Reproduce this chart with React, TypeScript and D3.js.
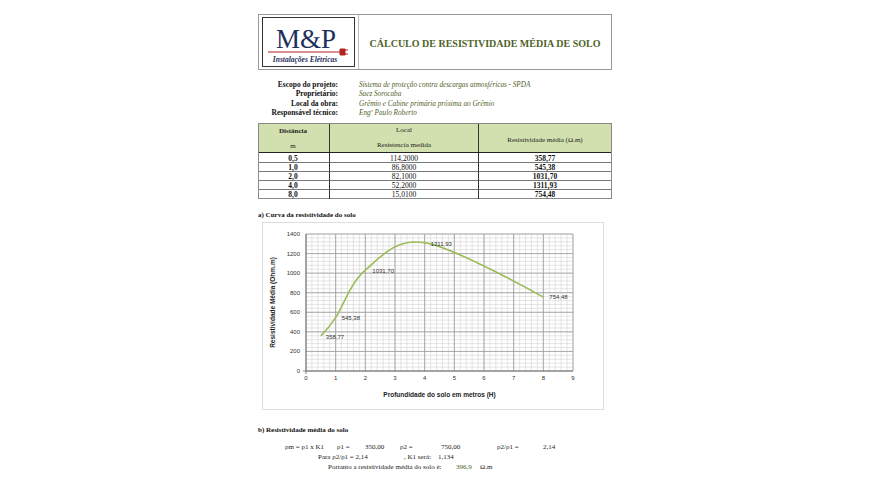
import React from "react";
import * as d3 from "d3";

const depths = [0.5, 1.0, 2.0, 4.0, 8.0];
const resistances = ["114,2000", "86,8000", "82,1000", "52,2000", "15,0100"];
const resistivity = [358.77, 545.38, 1031.7, 1311.93, 754.48];
const xTicks = [0, 1, 2, 3, 4, 5, 6, 7, 8, 9];
const yTicks = [0, 200, 400, 600, 800, 1000, 1200, 1400];
const infoLabels = ["Escopo do projeto:", "Proprietário:", "Local da obra:", "Responsável técnico:"];
const infoValues = [
  "Sistema de proteção contra descargas atmosféricas - SPDA",
  "Saez Sorocaba",
  "Grêmio e Cabine primária próxima ao Grêmio",
  "Engº Paulo Roberto",
];

const fmt = (v: number, d: number) => v.toFixed(d).replace(".", ",");

const SERIF = "'Liberation Serif', 'Times New Roman', serif";
const SANS = "'Liberation Sans', Arial, sans-serif";

export default function App() {
  const W = 870, H = 485;
  const x = d3.scaleLinear().domain([0, 9]).range([306, 573]);
  const y = d3.scaleLinear().domain([0, 1400]).range([371, 234]);
  const line = d3
    .line<number>()
    .x((_, i) => x(depths[i]))
    .y((d) => y(d))
    .curve(d3.curveCatmullRom.alpha(0));

  const minorX = d3.range(0, 9.0001, 0.2);
  const minorY = d3.range(0, 1400.001, 40);

  const rowY = [158, 167, 176, 185, 194];
  const labelOffsets = [
    [5, 3],
    [6, 2],
    [7, 3],
    [6, 3],
    [6, 2],
  ];

  return (
    <svg width={W} height={H} style={{ position: "absolute", left: 0, top: 0, background: "#fff" }}>
      {/* Header box */}
      <rect x={258.5} y={14.5} width={353} height={55} fill="#fff" stroke="#999" strokeWidth={1} />
      <rect x={262.5} y={17.5} width={92} height={49} fill="#fff" stroke="#333" strokeWidth={1} />
      <line x1={358.5} x2={358.5} y1={15} y2={69} stroke="#bbb" />
      <text x={306} y={48} textAnchor="middle" fontFamily={SERIF} fontSize={27} fill="#1f2f5c">
        M&amp;P
      </text>
      <line x1={268} x2={340} y1={52} y2={52} stroke="#b22222" strokeWidth={1.2} />
      <path d="M340,49 h5 v6 h-5 z M345,50 h3 M345,54 h3" fill="#b22222" stroke="#b22222" strokeWidth={1} />
      <text x={305} y={62} textAnchor="middle" fontFamily={SERIF} fontStyle="italic" fontWeight="bold" fontSize={7.5} fill="#1f2f5c">
        Instalações Elétricas
      </text>
      <text x={485} y={47} textAnchor="middle" fontFamily={SERIF} fontWeight="bold" fontSize={10} fill="#4f6228">
        CÁLCULO DE RESISTIVIDADE MÉDIA DE SOLO
      </text>

      {/* Info lines */}
      {infoLabels.map((l, i) => (
        <g key={l}>
          <text x={338} y={87 + i * 9.3} textAnchor="end" fontFamily={SERIF} fontWeight="bold" fontSize={7.5} fill="#111">
            {l}
          </text>
          <text x={359} y={87 + i * 9.3} fontFamily={SERIF} fontStyle="italic" fontSize={7.2} fill="#4f6228">
            {infoValues[i]}
          </text>
        </g>
      ))}

      {/* Table */}
      <rect x={258.5} y={123.5} width={353} height={29} fill="#d2e0b0" stroke="#888" />
      <rect x={258.5} y={152.5} width={353} height={46} fill="#fff" stroke="#888" />
      <line x1={329.5} x2={329.5} y1={124} y2={199} stroke="#333" />
      <line x1={478.5} x2={478.5} y1={124} y2={199} stroke="#333" />
      {rowY.slice(0, 4).map((ry, i) => (
        <line key={i} x1={259} x2={611} y1={ry + 4.5} y2={ry + 4.5} stroke="#555" strokeWidth={0.8} />
      ))}
      <line x1={259} x2={611} y1={152.5} y2={152.5} stroke="#222" />
      <text x={293} y={133} textAnchor="middle" fontFamily={SERIF} fontWeight="bold" fontSize={7} fill="#222">Distância</text>
      <text x={293} y={148} textAnchor="middle" fontFamily={SERIF} fontSize={7} fill="#222">m</text>
      <text x={404} y={132} textAnchor="middle" fontFamily={SERIF} fontSize={7} fill="#222">Local</text>
      <text x={404} y={147} textAnchor="middle" fontFamily={SERIF} fontSize={7} fill="#222">Resistencia medida</text>
      <text x={545} y={142} textAnchor="middle" fontFamily={SERIF} fontSize={7} fill="#222">Resistividade média (Ω.m)</text>
      {depths.map((dv, i) => (
        <g key={i} fontFamily={SERIF} fontSize={7.5} fill="#111">
          <text x={293} y={rowY[i] + 2.5} textAnchor="middle" fontWeight="bold">{fmt(dv, 1)}</text>
          <text x={404} y={rowY[i] + 2.5} textAnchor="middle">{resistances[i]}</text>
          <text x={545} y={rowY[i] + 2.5} textAnchor="middle" fontWeight="bold">{fmt(resistivity[i], 2)}</text>
        </g>
      ))}

      {/* Section a */}
      <text x={258} y={217} fontFamily={SERIF} fontWeight="bold" fontSize={7} fill="#111">
        a) Curva da resistividade do solo
      </text>
      <rect x={262.5} y={222.5} width={341} height={187} fill="#fff" stroke="#ddd" />

      {/* grid */}
      {minorX.map((v, i) => (
        <line key={"mx" + i} x1={x(v)} x2={x(v)} y1={y(1400)} y2={y(0)} stroke="#d4d4d4" strokeWidth={0.6} />
      ))}
      {minorY.map((v, i) => (
        <line key={"my" + i} x1={x(0)} x2={x(9)} y1={y(v)} y2={y(v)} stroke="#d4d4d4" strokeWidth={0.6} />
      ))}
      {xTicks.map((v) => (
        <line key={"Mx" + v} x1={x(v)} x2={x(v)} y1={y(1400)} y2={y(0)} stroke="#9a9a9a" strokeWidth={0.8} />
      ))}
      {yTicks.map((v) => (
        <line key={"My" + v} x1={x(0)} x2={x(9)} y1={y(v)} y2={y(v)} stroke="#9a9a9a" strokeWidth={0.8} />
      ))}
      <line x1={x(0)} x2={x(0)} y1={y(1400)} y2={y(0) + 3} stroke="#666" strokeWidth={0.8} />
      <line x1={x(0) - 3} x2={x(9)} y1={y(0)} y2={y(0)} stroke="#666" strokeWidth={0.8} />
      {yTicks.map((v) => (
        <text key={"yl" + v} x={x(0) - 6} y={y(v) + 2} textAnchor="end" fontFamily={SANS} fontSize={6} fill="#333">
          {v}
        </text>
      ))}
      {xTicks.map((v) => (
        <text key={"xl" + v} x={x(v)} y={y(0) + 9} textAnchor="middle" fontFamily={SANS} fontSize={6} fill="#333">
          {v}
        </text>
      ))}
      <text
        transform={`translate(275,${(y(0) + y(1400)) / 2}) rotate(-90)`}
        textAnchor="middle"
        fontFamily={SANS}
        fontWeight="bold"
        fontSize={6.5}
        fill="#222"
      >
        Resistividade Média (Ohm.m)
      </text>
      <text x={(x(0) + x(9)) / 2} y={397} textAnchor="middle" fontFamily={SANS} fontWeight="bold" fontSize={6.5} fill="#222">
        Profundidade do solo em metros (H)
      </text>

      <path d={line(resistivity) || ""} fill="none" stroke="#9bbb59" strokeWidth={1.6} />
      {resistivity.map((v, i) => (
        <text
          key={"dl" + i}
          x={x(depths[i]) + labelOffsets[i][0]}
          y={y(v) + labelOffsets[i][1]}
          fontFamily={SANS}
          fontSize={6}
          fill="#333"
        >
          {fmt(v, 2)}
        </text>
      ))}

      {/* Section b */}
      <text x={258} y={432} fontFamily={SERIF} fontWeight="bold" fontSize={7} fill="#111">
        b) Resistividade média do solo
      </text>
      <g fontFamily={SERIF} fontSize={7} fill="#222">
        <text x={285} y={449}>ρm = ρ1 x K1</text>
        <text x={337} y={449}>ρ1 =</text>
        <text x={365} y={449}>350,00</text>
        <text x={400} y={449}>ρ2 =</text>
        <text x={441} y={449}>750,00</text>
        <text x={497} y={449}>ρ2/ρ1 =</text>
        <text x={543} y={449}>2,14</text>
        <text x={318} y={459}>Para ρ2/ρ1 = 2,14</text>
        <text x={404} y={459}>, K1 será:</text>
        <text x={438} y={459}>1,134</text>
        <text x={328} y={469}>Portanto a resistividade média do solo é:</text>
        <text x={456} y={469} fill="#4f6228">396,9</text>
        <text x={480} y={469}>Ω.m</text>
      </g>
    </svg>
  );
}
